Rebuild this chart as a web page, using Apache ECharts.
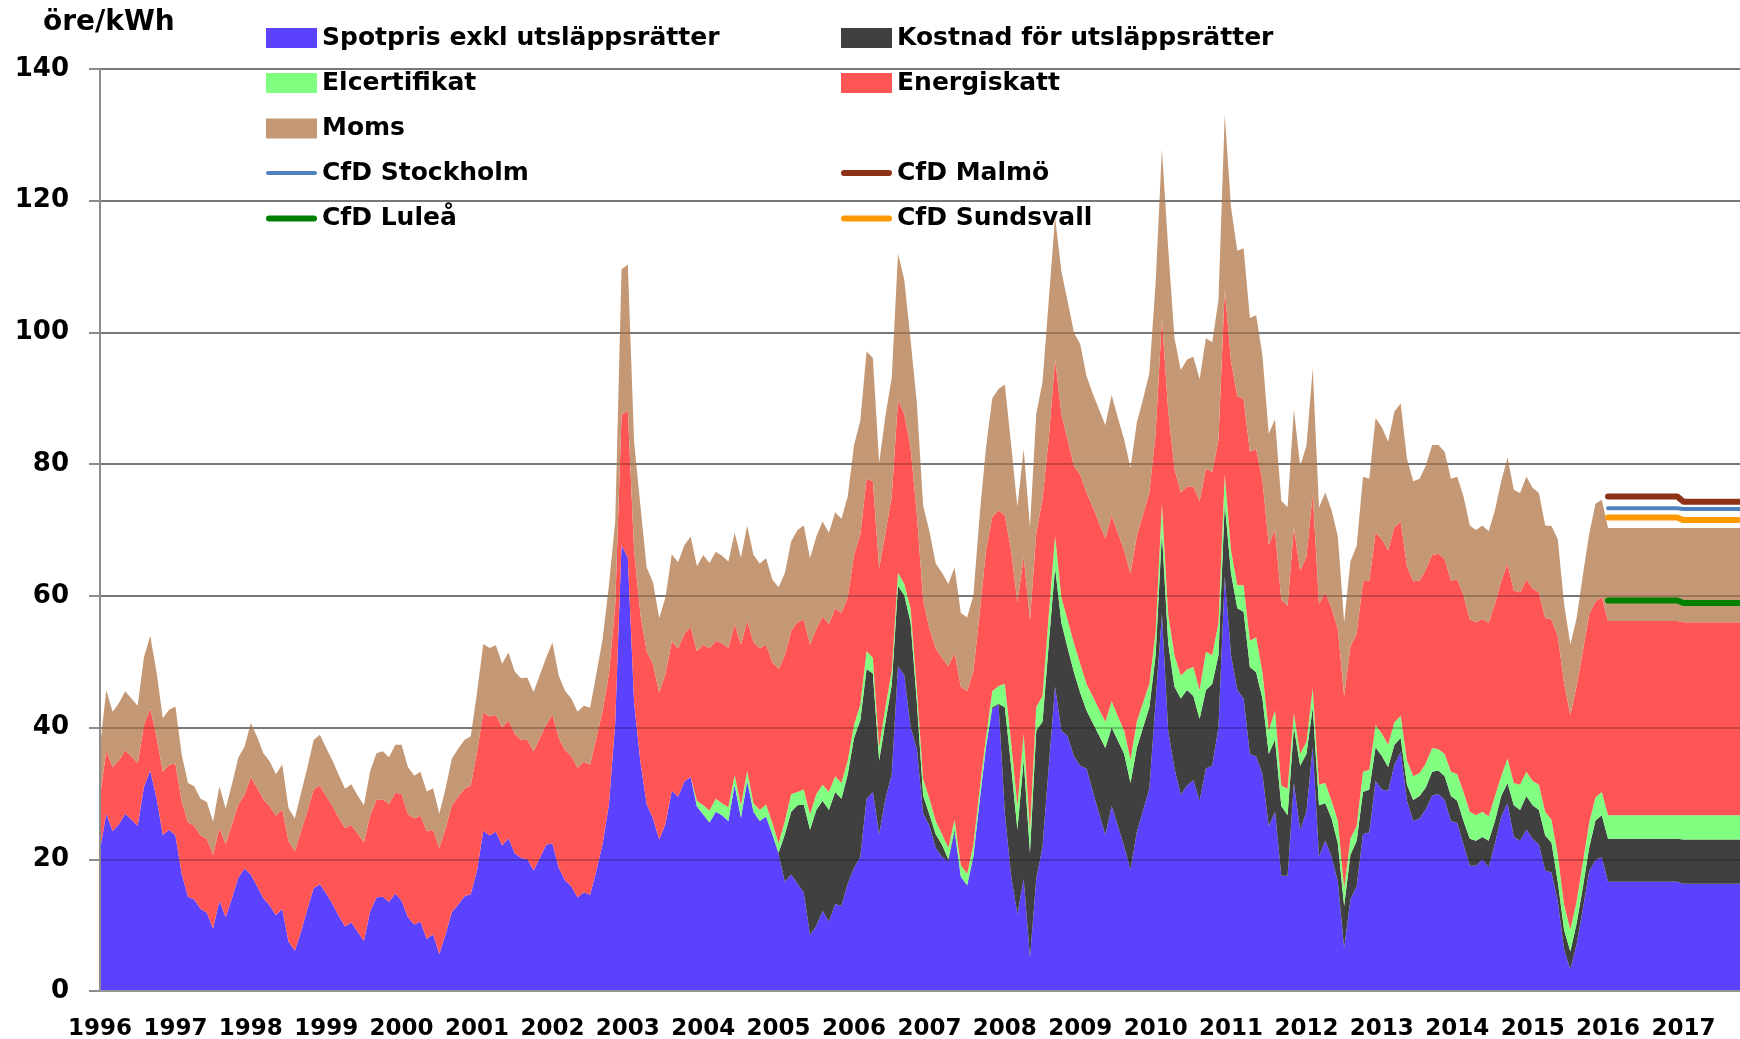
<!DOCTYPE html>
<html>
<head>
<meta charset="utf-8">
<title>Elpris villakund</title>
<script src="https://cdn.jsdelivr.net/npm/echarts@6/dist/echarts.min.js"></script>
<style>
  html, body { margin: 0; padding: 0; background: #fff; }
  #chart { width: 1740px; height: 1039px; }
</style>
</head>
<body>
<div id="chart"></div>
<script>
// årtal på x-axeln (etikett vid januari)
var years = [1996, 1997, 1998, 1999, 2000, 2001, 2002, 2003, 2004, 2005, 2006,
             2007, 2008, 2009, 2010, 2011, 2012, 2013, 2014, 2015, 2016, 2017];

// spotpris exkl utsläppsrätter, öre/kWh, en punkt per månad från jan 1996
var spot = [
  21.4, 26.9, 24.3, 25.3, 26.9, 26.0, 25.1, 31.0, 33.5, 29.3, 23.7, 24.5,
  23.6, 17.8, 14.3, 13.9, 12.5, 11.9, 9.5, 13.7, 11.2, 14.1, 17.2, 18.6,
  17.7, 15.9, 14.1, 13.0, 11.5, 12.5, 7.5, 6.1, 9.0, 12.4, 15.6, 16.2,
  14.8, 13.2, 11.4, 9.8, 10.4, 9.0, 7.6, 12.1, 14.2, 14.3, 13.5, 14.8,
  13.7, 11.2, 10.1, 10.5, 7.9, 8.6, 5.6, 8.6, 12.0, 13.1, 14.4, 14.7,
  18.3, 24.3, 23.6, 24.2, 22.1, 23.2, 20.9, 20.2, 20.0, 18.3, 20.2, 22.2,
  22.4, 18.7, 16.8, 15.9, 14.2, 15.0, 14.6, 18.3, 22.4, 28.4, 40.8, 67.7,
  65.8, 43.8, 34.8, 28.4, 26.2, 23.0, 25.4, 30.4, 29.5, 31.8, 32.5, 28.0,
  26.8, 25.6, 27.2, 26.7, 25.8, 31.3, 26.3, 31.9, 27.2, 25.8, 26.5, 23.8,
  20.7, 16.6, 17.7, 16.3, 14.9, 8.5, 9.9, 12.2, 10.5, 13.2, 12.9, 16.3,
  18.7, 20.4, 29.2, 30.2, 23.8, 29.2, 32.9, 49.3, 47.9, 40.1, 36.7, 27.0,
  25.1, 21.7, 20.4, 19.7, 24.1, 17.3, 16.0, 20.4, 28.9, 37.0, 42.8, 43.5,
  27.0, 17.5, 11.7, 17.0, 5.1, 17.0, 21.9, 34.2, 46.2, 39.5, 38.7, 35.6,
  34.2, 33.8, 30.3, 26.9, 23.7, 28.1, 25.0, 21.9, 18.4, 24.1, 27.4, 30.7,
  44.0, 57.2, 39.5, 33.8, 29.8, 31.2, 32.0, 28.9, 33.8, 34.2, 40.0, 62.9,
  51.0, 45.7, 44.4, 36.0, 35.6, 32.9, 25.0, 27.2, 17.5, 17.5, 31.6, 24.5,
  27.2, 37.0, 20.4, 22.8, 20.4, 16.6, 6.5, 13.9, 16.0, 23.8, 24.1, 31.9,
  30.6, 30.4, 34.3, 36.3, 28.9, 25.8, 26.2, 27.6, 29.7, 29.9, 29.0, 25.8,
  25.5, 22.2, 19.0, 19.0, 20.0, 18.8, 22.4, 26.5, 28.5, 23.4, 22.8, 24.5,
  23.1, 22.2, 18.3, 18.0, 13.6, 6.3, 3.3, 7.1, 12.5, 18.2, 19.9, 20.3,
  16.6, 16.6, 16.6, 16.6, 16.6, 16.6, 16.6, 16.6, 16.6, 16.6, 16.6, 16.6,
  16.3, 16.3, 16.3, 16.3, 16.3, 16.3, 16.3, 16.3, 16.3, 16.3
];

// kostnad för utsläppsrätter, från jan 2005
var etsStart = 108;
var ets = [
  0.3, 7.2, 9.5, 11.9, 13.4, 16.0, 17.6, 16.7, 17.0, 17.0, 16.3, 16.6,
  19.7, 20.7, 19.7, 18.0, 11.2, 11.6, 13.6, 12.2, 12.2, 15.9, 7.1, 2.7,
  1.7, 2.1, 1.8, 0.3, 0.4, 0.1, 0.1, 0.1, 0.1, 0.1, 0.3, 0.1,
  16.1, 16.7, 12.8, 18.1, 15.9, 22.5, 19.0, 18.6, 18.1, 16.4, 13.4, 12.8,
  11.1, 8.8, 10.4, 11.9, 13.2, 11.9, 13.0, 14.1, 13.2, 12.8, 12.6, 12.4,
  7.0, 12.3, 13.3, 12.4, 14.6, 14.5, 12.8, 12.4, 11.9, 12.4, 11.0, 11.1,
  12.4, 12.4, 13.2, 13.2, 12.8, 11.5, 11.0, 11.0, 10.6, 9.2, 8.4, 9.7,
  8.8, 6.0, 7.8, 5.7, 5.8, 5.8, 6.4, 6.8, 6.8, 6.4, 6.5, 5.1,
  5.1, 3.6, 3.1, 2.1, 2.4, 3.2, 3.4, 3.3, 3.6, 3.6, 3.6, 3.8,
  3.4, 3.6, 4.1, 3.8, 3.4, 4.0, 3.4, 3.1, 3.1, 4.8, 4.7, 5.1,
  5.1, 5.3, 5.3, 4.5, 3.0, 3.0, 2.7, 3.2, 3.3, 3.6, 6.0, 6.4,
  6.5, 6.5, 6.5, 6.5, 6.5, 6.5, 6.5, 6.5, 6.5, 6.5, 6.5, 6.5,
  6.7, 6.7, 6.7, 6.7, 6.7, 6.7, 6.7, 6.7, 6.7, 6.7
];

// elcertifikat, från dec 2003
var certStart = 95;
var elcert = [
  0.9,
  1.4, 1.8, 2.0, 1.8, 2.1, 1.5, 1.9, 1.5, 1.3, 1.7, 1.8, 1.7,
  1.4, 2.0, 2.7, 2.0, 2.3, 2.3, 2.4, 2.4, 2.7, 2.4, 2.4, 2.1,
  2.0, 2.4, 2.7, 2.4, 2.0, 2.3, 2.1, 2.0, 1.7, 2.1, 2.1, 2.5,
  2.4, 2.0, 1.6, 1.7, 1.5, 1.7, 1.7, 1.7, 1.7, 1.4, 2.4, 2.7,
  3.5, 3.6, 3.6, 4.0, 3.5, 3.6, 3.9, 4.4, 4.8, 3.9, 4.2, 4.4,
  4.4, 4.0, 4.0, 4.0, 4.0, 4.0, 3.7, 3.5, 3.5, 4.0, 3.8, 3.5,
  3.5, 4.5, 4.4, 4.8, 3.5, 3.1, 4.4, 4.4, 5.8, 4.4, 4.9, 4.4,
  3.5, 3.5, 4.0, 4.0, 5.3, 4.0, 3.5, 4.4, 3.1, 4.0, 2.2, 1.8,
  1.8, 3.0, 3.1, 3.1, 2.7, 3.4, 2.7, 2.4, 2.3, 3.1, 3.0, 3.4,
  3.4, 3.4, 3.4, 3.4, 3.7, 3.6, 3.5, 3.7, 3.6, 3.2, 3.4, 3.7,
  4.0, 4.4, 4.1, 3.9, 3.8, 3.7, 3.8, 3.0, 3.7, 3.4, 3.8, 3.7,
  3.7, 3.8, 3.6, 3.5, 4.1, 3.8, 3.3, 3.3, 3.8, 3.8, 3.5, 3.5,
  3.6, 3.6, 3.6, 3.6, 3.6, 3.6, 3.6, 3.6, 3.6, 3.6, 3.6, 3.6,
  3.7, 3.7, 3.7, 3.7, 3.7, 3.7, 3.7, 3.7, 3.7, 3.7
];

// pris inkl energiskatt, exkl moms (överkant röd yta)
var exVat = [
  29.5, 36.5, 34.0, 35.0, 36.5, 35.6, 34.6, 40.4, 42.9, 38.6, 33.3, 34.3,
  34.6, 28.8, 25.6, 25.1, 23.6, 23.1, 20.7, 24.8, 22.3, 25.3, 28.3, 29.8,
  32.5, 30.9, 29.1, 28.1, 26.6, 27.6, 22.8, 21.2, 24.3, 27.3, 30.6, 31.2,
  29.6, 28.1, 26.3, 24.7, 25.2, 23.9, 22.6, 26.7, 29.0, 29.1, 28.4, 30.1,
  29.9, 26.9, 26.2, 26.6, 24.3, 24.5, 21.7, 24.7, 28.2, 29.5, 30.7, 31.2,
  36.3, 42.3, 41.7, 41.9, 40.0, 41.1, 39.1, 38.1, 38.1, 36.4, 38.4, 40.4,
  42.0, 38.5, 36.6, 35.7, 33.9, 34.8, 34.4, 38.5, 42.6, 48.2, 58.7, 87.5,
  88.1, 66.9, 57.2, 51.6, 49.7, 45.3, 48.2, 53.1, 52.0, 54.2, 55.3, 51.6,
  52.6, 52.0, 53.2, 52.8, 52.1, 55.7, 52.6, 56.2, 53.0, 52.0, 52.6, 49.9,
  48.9, 51.0, 54.7, 56.0, 56.4, 52.6, 55.0, 56.9, 55.7, 58.1, 57.4, 59.8,
  66.2, 69.3, 77.8, 77.4, 64.2, 69.6, 75.1, 89.7, 87.6, 82.5, 72.4, 59.4,
  55.0, 52.0, 50.6, 49.3, 51.3, 46.2, 45.5, 48.6, 57.4, 66.9, 72.0, 73.0,
  72.2, 66.9, 59.0, 66.0, 56.3, 69.5, 74.8, 84.0, 96.0, 87.6, 83.7, 79.7,
  78.4, 75.7, 73.5, 71.1, 68.7, 72.2, 69.5, 66.9, 63.4, 69.1, 72.4, 75.7,
  84.6, 102.2, 88.1, 79.3, 75.7, 76.6, 76.6, 74.4, 79.3, 78.8, 83.7, 106.6,
  95.6, 90.3, 89.9, 81.9, 82.3, 77.5, 67.8, 70.0, 59.4, 58.5, 70.4, 63.8,
  66.0, 75.5, 58.8, 60.5, 58.1, 55.0, 44.8, 52.3, 54.3, 62.2, 62.3, 69.6,
  68.6, 66.9, 70.4, 71.3, 64.5, 62.2, 62.3, 64.0, 66.2, 66.4, 65.6, 62.3,
  62.5, 60.1, 56.4, 56.0, 56.5, 55.9, 58.8, 62.2, 64.9, 60.8, 60.5, 62.5,
  61.1, 60.5, 56.6, 56.4, 53.9, 46.8, 41.9, 46.3, 51.7, 57.2, 59.1, 59.8,
  56.2, 56.2, 56.2, 56.2, 56.2, 56.2, 56.2, 56.2, 56.2, 56.2, 56.2, 56.2,
  56.0, 56.0, 56.0, 56.0, 56.0, 56.0, 56.0, 56.0, 56.0, 56.0
];

// totalpris inkl moms (överkant hela ytan)
var inclVat = [
  37.1, 45.7, 42.4, 43.7, 45.5, 44.4, 43.3, 50.7, 53.9, 48.4, 41.4, 42.7,
  43.2, 35.9, 31.6, 31.1, 29.2, 28.7, 25.7, 31.1, 27.7, 31.4, 35.4, 37.1,
  40.7, 38.6, 36.1, 34.9, 32.9, 34.4, 27.8, 26.2, 30.1, 33.9, 38.1, 38.9,
  36.9, 35.0, 32.8, 30.7, 31.4, 29.7, 28.2, 33.4, 36.1, 36.4, 35.5, 37.4,
  37.4, 34.0, 32.7, 33.3, 30.3, 30.8, 26.9, 30.8, 35.3, 36.8, 38.1, 38.7,
  45.3, 52.7, 52.1, 52.5, 49.7, 51.4, 48.5, 47.5, 47.6, 45.4, 48.0, 50.6,
  52.9, 47.9, 45.6, 44.4, 42.4, 43.3, 43.0, 48.2, 53.5, 61.7, 71.4, 109.6,
  110.3, 83.4, 73.7, 64.3, 62.1, 56.6, 59.8, 66.3, 65.1, 67.7, 69.0, 64.5,
  66.2, 65.0, 66.7, 66.1, 65.2, 69.6, 65.8, 70.7, 66.2, 64.9, 65.7, 62.5,
  61.3, 63.5, 68.3, 70.0, 70.7, 65.7, 69.0, 71.3, 69.6, 72.7, 71.7, 75.1,
  82.9, 86.6, 97.1, 96.1, 80.2, 87.3, 93.1, 112.0, 108.0, 98.8, 89.3, 73.7,
  69.8, 64.9, 63.5, 61.8, 64.3, 57.4, 56.7, 60.1, 72.3, 82.5, 90.0, 91.4,
  92.1, 83.0, 73.5, 82.3, 70.4, 87.6, 92.5, 105.0, 117.5, 109.3, 104.7, 100.0,
  98.2, 93.4, 90.7, 88.3, 85.9, 90.5, 87.0, 83.7, 79.4, 86.3, 89.9, 93.8,
  107.5, 127.8, 112.8, 99.1, 94.3, 95.9, 96.3, 92.9, 99.1, 98.5, 104.9, 133.1,
  119.0, 112.4, 112.8, 102.2, 102.6, 96.5, 84.6, 86.8, 74.4, 73.5, 88.3, 79.7,
  82.8, 94.5, 73.4, 75.7, 73.0, 69.0, 56.0, 65.2, 67.6, 78.1, 77.8, 87.0,
  85.6, 83.4, 88.0, 89.2, 80.8, 77.4, 77.8, 79.8, 82.9, 82.9, 81.9, 77.8,
  78.1, 75.1, 70.7, 70.0, 70.7, 69.8, 73.0, 77.4, 81.0, 76.1, 75.6, 78.1,
  76.4, 75.6, 70.7, 70.6, 68.6, 58.8, 52.6, 56.6, 63.2, 69.4, 74.0, 74.6,
  70.3, 70.3, 70.3, 70.3, 70.3, 70.3, 70.3, 70.3, 70.3, 70.3, 70.3, 70.3,
  70.3, 70.3, 70.3, 70.3, 70.3, 70.3, 70.3, 70.3, 70.3, 70.3
];

// CfD-terminer från jan 2016
var cfdStart = 240;
var cfdStockholm = [73.3, 73.3, 73.3, 73.3, 73.3, 73.3, 73.3, 73.3, 73.3, 73.3, 73.3, 73.3,
                    73.2, 73.2, 73.2, 73.2, 73.2, 73.2, 73.2, 73.2, 73.2, 73.2];
var cfdMalmo = [75.1, 75.1, 75.1, 75.1, 75.1, 75.1, 75.1, 75.1, 75.1, 75.1, 75.1, 75.1,
                74.3, 74.3, 74.3, 74.3, 74.3, 74.3, 74.3, 74.3, 74.3, 74.3];
var cfdLulea = [59.3, 59.3, 59.3, 59.3, 59.3, 59.3, 59.3, 59.3, 59.3, 59.3, 59.3, 59.3,
                58.9, 58.9, 58.9, 58.9, 58.9, 58.9, 58.9, 58.9, 58.9, 58.9];
var cfdSundsvall = [71.9, 71.9, 71.9, 71.9, 71.9, 71.9, 71.9, 71.9, 71.9, 71.9, 71.9, 71.9,
                    71.5, 71.5, 71.5, 71.5, 71.5, 71.5, 71.5, 71.5, 71.5, 71.5];

var FONT = 'DejaVu Sans';

function pad(arr, start, fill) {
    var out = [];
    for (var i = 0; i < spot.length; i++) {
        out.push(i < start ? fill : arr[i - start]);
    }
    return out;
}

(function() {
    // månadskategorier
    var months = [];
    years.forEach(function(y) {
        for (var m = 1; m <= 12; m++) {
            months.push(y + '-' + (m < 10 ? '0' + m : m));
        }
    });
    months = months.slice(0, spot.length);

    var etsAll = pad(ets, etsStart, 0);
    var certAll = pad(elcert, certStart, 0);
    var taxAll = exVat.map(function(v, i) {
        return Math.max(0, +(v - spot[i] - etsAll[i] - certAll[i]).toFixed(2));
    });
    var vatAll = inclVat.map(function(v, i) {
        return Math.max(0, +(v - exVat[i]).toFixed(2));
    });

    function area(name, color, data) {
        return {
            name: name,
            type: 'line',
            stack: 'pris',
            data: data,
            symbol: 'none',
            sampling: 'none',
            color: color,
            itemStyle: { color: color },
            lineStyle: { width: 0, opacity: 0 },
            areaStyle: { color: color, opacity: 1 },
            emphasis: { disabled: true },
            z: 2
        };
    }
    function cfd(name, color, width, data) {
        return {
            name: name,
            type: 'line',
            data: pad(data, cfdStart, null),
            symbol: 'none',
            color: color,
            itemStyle: { color: color },
            lineStyle: { color: color, width: width, cap: 'round', join: 'round' },
            emphasis: { disabled: true },
            z: 10
        };
    }

    var series = [
        area('Spotpris exkl utsläppsrätter', '#5B42FF', spot),
        area('Kostnad för utsläppsrätter', '#404040', etsAll),
        area('Elcertifikat', '#80FF80', certAll),
        area('Energiskatt', '#FF5555', taxAll),
        area('Moms', '#C49874', vatAll),
        cfd('CfD Stockholm', '#4F81BD', 4, cfdStockholm),
        cfd('CfD Malmö', '#8E3217', 6, cfdMalmo),
        cfd('CfD Luleå', '#008000', 6, cfdLulea),
        cfd('CfD Sundsvall', '#FF9900', 6, cfdSundsvall)
    ];

    // legend: två kolumner, fem rader (Moms-raden har tom högerkolumn)
    var legendRows = [
        ['Spotpris exkl utsläppsrätter', 'Kostnad för utsläppsrätter'],
        ['Elcertifikat', 'Energiskatt'],
        ['Moms', null],
        ['CfD Stockholm', 'CfD Malmö'],
        ['CfD Luleå', 'CfD Sundsvall']
    ];
    var rowCenter = [35.5, 80.5, 126, 170.5, 216];
    var colLeft = [266, 841];
    // rundade streck som ikon för linjerna
    var thickBar = 'path://M3,0H48A3,3 0 0 1 48,6H3A3,3 0 0 1 3,0Z';
    var thinBar = 'path://M2,0H49A2,2 0 0 1 49,4H2A2,2 0 0 1 2,0Z';
    var legends = [];
    legendRows.forEach(function(row, r) {
        row.forEach(function(name, c) {
            if (!name) return;
            var isLine = name.indexOf('CfD') === 0;
            var item = { name: name, icon: 'rect' };
            if (isLine) item.icon = (name === 'CfD Stockholm') ? thinBar : thickBar;
            legends.push({
                data: [item],
                left: colLeft[c],
                top: rowCenter[r] - 10,
                orient: 'horizontal',
                padding: 0,
                itemWidth: 51,
                itemHeight: 20,
                symbolKeepAspect: true,
                selectedMode: false,
                itemStyle: { borderWidth: 0 },
                lineStyle: { width: 0 },
                textStyle: {
                    fontFamily: FONT, fontSize: 25, fontWeight: 'bold',
                    color: '#000', lineHeight: 20, padding: [0, 0, 0, 0]
                }
            });
        });
    });

    var myChart = echarts.init(document.getElementById('chart'), null, { renderer: 'canvas' });
    var option = {
        backgroundColor: '#fff',
        animation: false,
        title: {
            text: 'öre/kWh',
            left: 43,
            top: 9,
            padding: 0,
            textStyle: { fontFamily: FONT, fontSize: 28, fontWeight: 'bold', color: '#000' }
        },
        legend: legends,
        grid: {
            left: 100,
            right: 0,
            top: 69,
            bottom: 48,
            containLabel: false,
            outerBoundsMode: 'none'
        },
        xAxis: {
            type: 'category',
            data: months,
            boundaryGap: false,
            z: 6,
            axisLine: { lineStyle: { color: '#969696', width: 2 } },
            axisTick: { show: false },
            splitLine: { show: false },
            axisLabel: {
                interval: function(i) { return i % 12 === 0; },
                formatter: function(v) { return v.slice(0, 4); },
                margin: 27,
                fontFamily: FONT,
                fontSize: 23,
                fontWeight: 'bold',
                color: '#000',
                hideOverlap: false
            }
        },
        yAxis: [{
            type: 'value',
            min: 0,
            max: 140,
            interval: 20,
            z: 0,
            axisLine: { show: true, lineStyle: { color: '#8c8c8c', width: 2 } },
            axisTick: { show: true, length: 11, lineStyle: { color: '#8c8c8c', width: 2 } },
            splitLine: { show: true, lineStyle: { color: '#9a9a9a', width: 2 } },
            axisLabel: {
                margin: 31,
                fontFamily: FONT,
                fontSize: 26,
                fontWeight: 'bold',
                color: '#000'
            }
        }, {
            // stödlinjer ovanpå ytorna, syns som mörkare streck
            type: 'value',
            min: 0,
            max: 140,
            interval: 20,
            position: 'left',
            z: 5,
            axisLine: { show: true, lineStyle: { color: '#8c8c8c', width: 2 } },
            axisTick: { show: false },
            axisLabel: { show: false },
            splitLine: { show: true, lineStyle: { color: 'rgba(0,0,0,0.22)', width: 2 } }
        }],
        series: series
    };
    myChart.setOption(option);
})();
</script>
</body>
</html>
